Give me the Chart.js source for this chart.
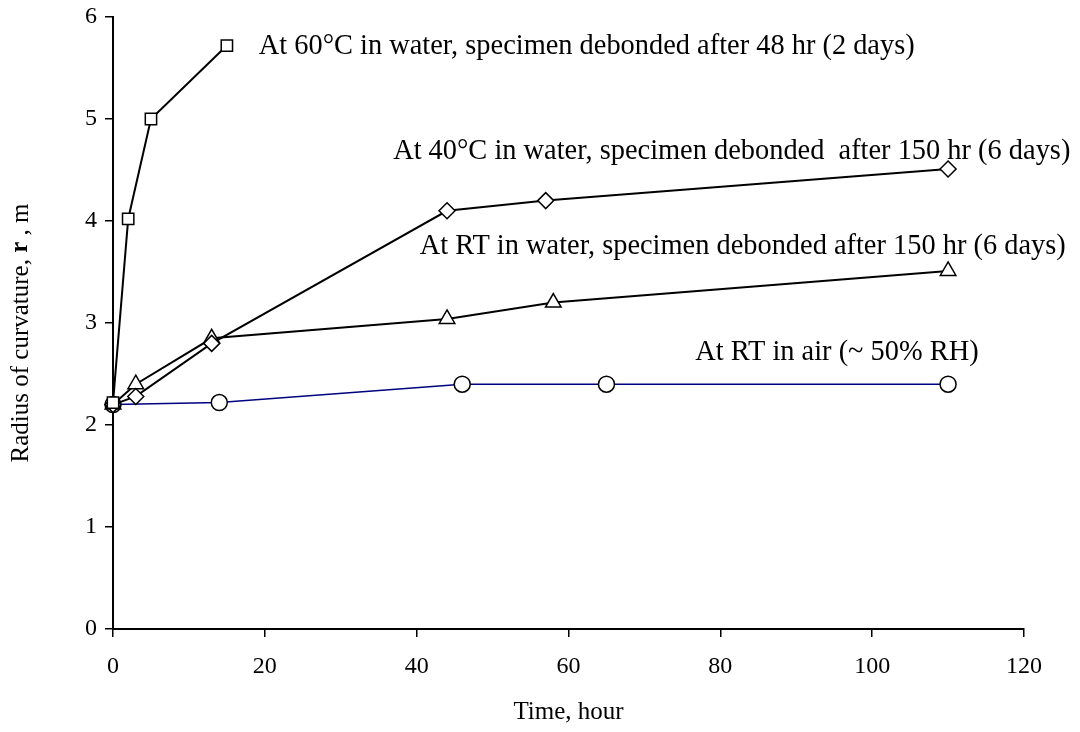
<!DOCTYPE html>
<html>
<head>
<meta charset="utf-8">
<script src="https://cdn.jsdelivr.net/npm/chart.js@4/dist/chart.umd.min.js"></script>
<style>
  body { margin: 0; background: #fff; }
  canvas { display: block; }
</style>
</head>
<body>
<canvas id="c" width="1080" height="732"></canvas>
<script>
// data (hours, metres)
const t60 = [0, 2, 5, 15];
const r60 = [2.22, 4.02, 5.0, 5.72];
const t40 = [0, 3, 13, 44, 57, 110];
const r40 = [2.2, 2.28, 2.8, 4.1, 4.2, 4.51];
const tRTw = [0, 3, 13, 44, 58, 110];
const rRTw = [2.2, 2.4, 2.85, 3.04, 3.2, 3.51];
const tAir = [0, 14, 46, 65, 110];
const rAir = [2.2, 2.22, 2.4, 2.4, 2.4];

const xTicks = [0, 20, 40, 60, 80, 100, 120];
const yTicks = [0, 1, 2, 3, 4, 5, 6];

// curve captions and where they sit (data coords, left edge / middle)
const captions = [
  'At 60°C in water, specimen debonded after 48 hr (2 days)',
  'At 40°C in water, specimen debonded  after 150 hr (6 days)',
  'At RT in water, specimen debonded after 150 hr (6 days)',
  'At RT in air (~ 50% RH)'
];
const captionX = [19.2, 36.9, 40.4, 76.7];
const captionY = [5.71, 4.68, 3.75, 2.71];

const serif = '"Liberation Serif", "Times New Roman", serif';

function pts(xs, ys) {
  return xs.map((x, i) => ({ x: x, y: ys[i] }));
}

function series(label, xs, ys, shape, rad, col, w) {
  return {
    label: label,
    data: pts(xs, ys),
    borderColor: col,
    borderWidth: w,
    pointStyle: shape,
    pointRadius: rad,
    pointBackgroundColor: '#fff',
    pointBorderColor: '#000',
    pointBorderWidth: 1.5,
    tension: 0,
    clip: false
  };
}

// captions + y title with bold r
const textPlugin = {
  id: 'texts',
  afterDraw(chart) {
    const c = chart.ctx;
    const xs = chart.scales.x, ys = chart.scales.y;
    c.save();
    c.fillStyle = '#000';
    c.font = '28.4px ' + serif;
    c.textBaseline = 'middle';
    c.textAlign = 'left';
    captions.forEach((s, i) => {
      c.fillText(s, xs.getPixelForValue(captionX[i]), ys.getPixelForValue(captionY[i]));
    });
    // y axis title
    c.translate(21, (chart.chartArea.top + chart.chartArea.bottom) / 2 + 10);
    c.rotate(-Math.PI / 2);
    const parts = [['Radius of curvature, ', '25px ' + serif], ['r', 'bold 25px ' + serif], [' , m', '25px ' + serif]];
    let total = 0;
    parts.forEach(p => { c.font = p[1]; total += c.measureText(p[0]).width; });
    let x0 = -total / 2;
    parts.forEach(p => {
      c.font = p[1];
      c.fillText(p[0], x0, 0);
      x0 += c.measureText(p[0]).width;
    });
    c.restore();
  }
};

new Chart(document.getElementById('c'), {
  type: 'line',
  data: {
    datasets: [
      series('60C water', t60, r60, 'rect', 8, '#000', 2),
      series('40C water', t40, r40, 'rectRot', 8, '#000', 2),
      series('RT water', tRTw, rRTw, 'triangle', 9, '#000', 2),
      series('RT air', tAir, rAir, 'circle', 8, '#000080', 1.5)
    ]
  },
  options: {
    responsive: false,
    animation: false,
    layout: { padding: { top: 17, right: 56, left: 0, bottom: 0 } },
    plugins: { legend: { display: false }, tooltip: { enabled: false } },
    scales: {
      x: {
        type: 'linear',
        min: 0, max: 120,
        afterBuildTicks: s => { s.ticks = xTicks.map(v => ({ value: v })); },
        afterFit: s => { s.height = 103; s.paddingLeft = 0; s.paddingRight = 0; },
        border: { display: true, color: '#000', width: 2 },
        grid: { drawOnChartArea: false, color: '#000', tickLength: 8, lineWidth: 1.5 },
        ticks: { color: '#000', font: { family: serif, size: 24 }, padding: 15, maxRotation: 0 },
        title: { display: true, text: 'Time, hour', color: '#000', font: { family: serif, size: 25 }, padding: { top: 4, bottom: 5 } }
      },
      y: {
        type: 'linear',
        min: 0, max: 6,
        afterBuildTicks: s => { s.ticks = yTicks.map(v => ({ value: v })); },
        afterFit: s => { s.width = 113; s.paddingTop = 0; s.paddingBottom = 0; },
        border: { display: true, color: '#000', width: 2 },
        grid: { drawOnChartArea: false, color: '#000', tickLength: 8, lineWidth: 1.5 },
        ticks: { color: '#000', font: { family: serif, size: 24 }, padding: 8 }
      }
    }
  },
  plugins: [textPlugin]
});
</script>
</body>
</html>
